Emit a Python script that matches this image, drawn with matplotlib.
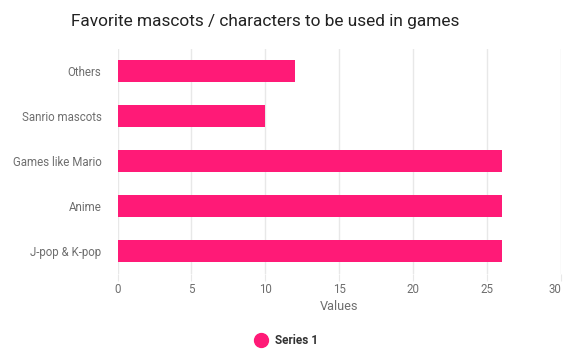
import matplotlib.pyplot as plt
from matplotlib.lines import Line2D

# Datos del gráfico
categories = ['J-pop & K-pop', 'Anime', 'Games like Mario', 'Sanrio mascots', 'Others']
values = [26, 26, 26, 10, 12]
x_ticks = [0, 5, 10, 15, 20, 25, 30]

pink = '#FF1A77'
grid_color = '#E8E8E8'
label_color = '#6E6E6E'

plt.rcParams['font.family'] = ['Roboto', 'DejaVu Sans']

fig = plt.figure(figsize=(5.68, 3.49), dpi=100)
ax = fig.add_axes([0.2069, 0.2163, 0.7808, 0.6447])

ax.barh(categories, values, height=0.5, color=pink, zorder=3)

ax.set_xlim(0, 30)
ax.set_ylim(-0.5, 4.5)
ax.set_xticks(x_ticks)
ax.grid(axis='x', color=grid_color, linewidth=1, zorder=0)
for s in ax.spines.values():
    s.set_visible(False)

ax.tick_params(axis='y', length=0, pad=11.5, labelsize=8.3, labelcolor=label_color)
ax.tick_params(axis='x', length=5, color=grid_color, pad=2, labelsize=8.3, labelcolor=label_color)
ax.get_xticklabels()[-1].set_ha('right')
ax.set_xlabel('Values', fontsize=9.2, color=label_color, labelpad=3)

fig.suptitle('Favorite mascots / characters to be used in games', fontsize=12.4,
             color='#222222', x=0.466, y=0.96)

# Leyenda con marcador circular
handle = Line2D([], [], marker='o', linestyle='none', markersize=10, color=pink)
leg = fig.legend([handle], ['Series 1'], loc='center', bbox_to_anchor=(0.50, 0.025),
                 frameon=False, handletextpad=0.2, prop={'weight': 'bold', 'size': 8.5})
for t in leg.get_texts():
    t.set_color('#333333')

fig.savefig('out.png', dpi=100)
